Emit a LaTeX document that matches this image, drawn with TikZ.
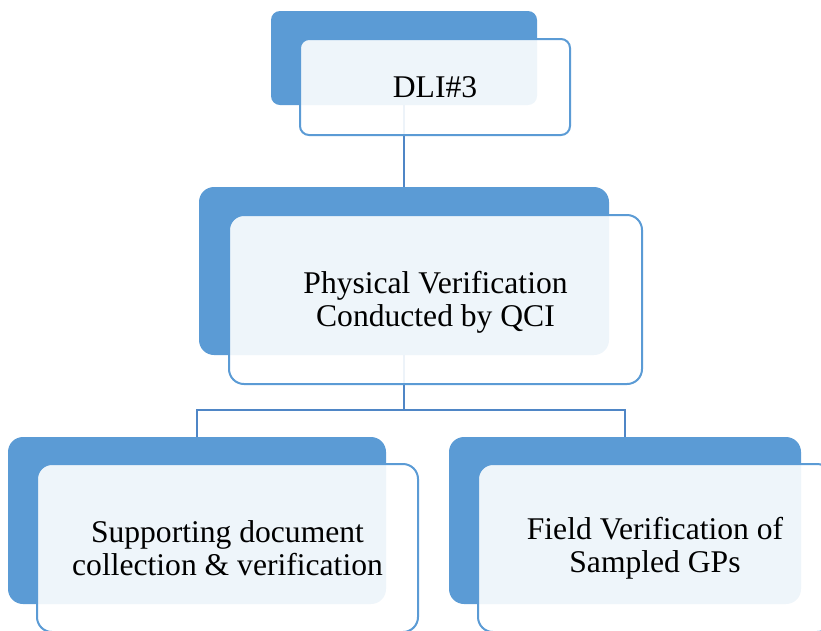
\documentclass[tikz,border=0pt]{standalone}
\usepackage{fontspec}
\setmainfont{Liberation Serif}
\definecolor{accblue}{RGB}{91,155,213}
\definecolor{linkblue}{RGB}{79,134,198}
\begin{document}
\begin{tikzpicture}[x=1pt,y=-1pt,
  backbox/.style={fill=accblue, draw=none, inner sep=0pt, rounded corners=#1},
  frontbox/.style={fill=white, fill opacity=0.9, text opacity=1, draw=accblue, line width=2pt,
    inner sep=0pt, rounded corners=#1, align=center, font=\fontsize{31.6}{33.5}\selectfont},
  link/.style={draw=linkblue, line width=2.5pt}]
\useasboundingbox (0,0) rectangle (821,630);
% back rectangles
\node[backbox=9pt, minimum width=266pt, minimum height=94pt] (b1) at (404,58) {};
\node[backbox=15pt, minimum width=410pt, minimum height=168pt] (b2) at (404,271) {};
\node[backbox=15pt, minimum width=378pt, minimum height=167pt] (b3) at (197,520.5) {};
\node[backbox=15pt, minimum width=352pt, minimum height=167pt] (b4) at (625,520.5) {};
% connectors
\coordinate (j) at (404,410);
\draw[link] (b1.south) -- (b2.north);
\draw[link] (b2.south) -- (b2.south |- j) -| (b3.north);
\draw[link] (b2.south |- j) -| (b4.north);
% front boxes
\node[frontbox=9pt, minimum width=270pt, minimum height=96pt] (f1) at (435,87) {DLI\#3};
\node[frontbox=15pt, minimum width=413pt, minimum height=169pt] (f2) at (435.5,299.5) {\raisebox{-3pt}[\height][\depth]{\parbox{400pt}{\centering Physical Verification\\Conducted by QCI}}};
\node[frontbox=15pt, minimum width=381pt, minimum height=168pt] (f3) at (227.5,548) {Supporting document\\collection \& verification};
\node[frontbox=15pt, minimum width=354pt, minimum height=168pt] (f4) at (655,548) {Field Verification of\\Sampled GPs};
\end{tikzpicture}
\end{document}
